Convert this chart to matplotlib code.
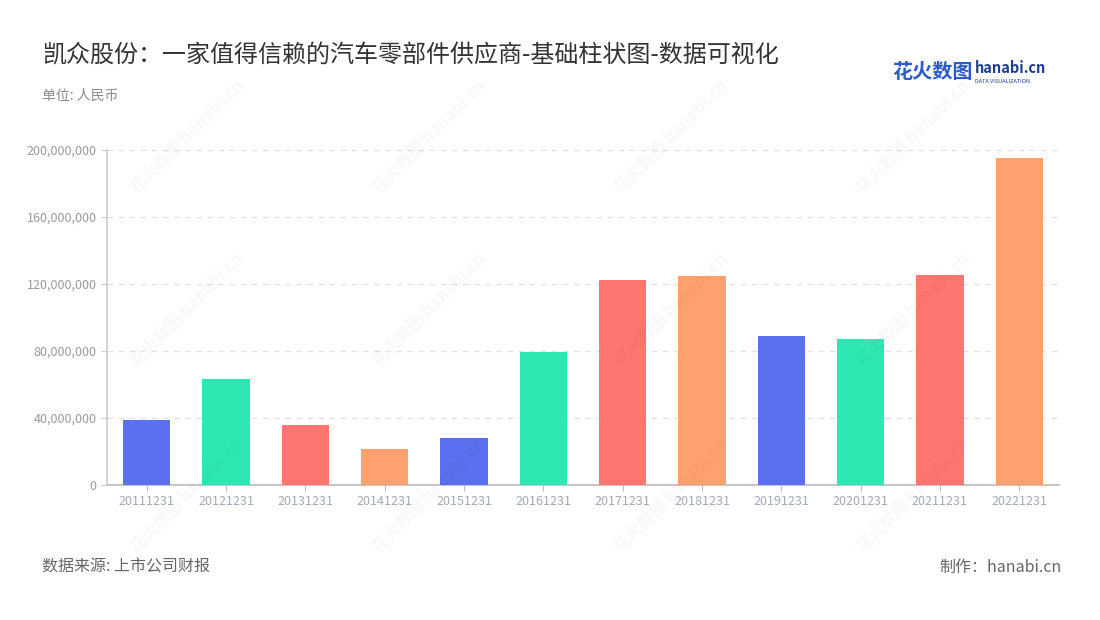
import numpy as np
import matplotlib.pyplot as plt
from matplotlib.ticker import FuncFormatter

plt.rcParams['font.family'] = ['Noto Sans CJK SC', 'DejaVu Sans']

# data
years = ["20111231", "20121231", "20131231", "20141231", "20151231", "20161231",
         "20171231", "20181231", "20191231", "20201231", "20211231", "20221231"]
values = [38.8e6, 63.1e6, 36.0e6, 21.6e6, 28.0e6, 79.4e6,
          122.4e6, 124.8e6, 88.8e6, 87.0e6, 125.6e6, 195.4e6]
palette = ["#5b70ef", "#2ee8b3", "#ff7670", "#ffa16e"]
yticks = [0, 40e6, 80e6, 120e6, 160e6, 200e6]

fig = plt.figure(figsize=(11, 6.2), dpi=100)
ax = fig.add_axes([0.0973, 0.2177, 0.8654, 0.5403])

x = np.arange(len(years))
colors = [palette[i % 4] for i in range(len(years))]
ax.bar(x, values, width=0.6, color=colors, zorder=3)

ax.set_xlim(-0.5, len(years) - 0.5)
ax.set_ylim(0, 200e6)
ax.set_yticks(yticks)
ax.yaxis.set_major_formatter(FuncFormatter(lambda v, p: f"{int(v):,}"))
ax.set_xticks(x)
ax.set_xticklabels(years)
ax.grid(axis='y', color='#e3e3e3', linestyle=(0, (4, 4)), linewidth=1, zorder=0)

for s in ['top', 'right']:
    ax.spines[s].set_visible(False)
ax.spines['left'].set_color('#cccccc')
ax.spines['bottom'].set_color('#bbbbbb')
ax.spines['left'].set_linewidth(1.2)
ax.spines['bottom'].set_linewidth(1.2)
ax.tick_params(axis='y', colors='#cccccc', labelcolor='#9a9a9a', labelsize=9, length=4)
ax.tick_params(axis='x', colors='#bbbbbb', labelcolor='#a3a9b8', labelsize=9, length=4)

# faint watermarks
for wx in [0.17, 0.39, 0.61, 0.83]:
    for wy in [0.78, 0.50, 0.20]:
        fig.text(wx, wy, "花火数图 hanabi.cn", rotation=45, fontsize=12,
                 color='#000000', alpha=0.03, ha='center', va='center',
                 fontweight='bold')

fig.text(0.038, 0.911, "凯众股份：一家值得信赖的汽车零部件供应商-基础柱状图-数据可视化",
         fontsize=17.3, color='#333333', va='center')
fig.text(0.038, 0.845, "单位: 人民币", fontsize=10, color='#8a8a8a', va='center')

# logo
fig.text(0.811, 0.884, "花火数图", fontsize=14.5, color='#2d5cc8', fontweight='bold', va='center')
fig.text(0.886, 0.890, "hanabi.cn", fontsize=10.5, color='#1e3f8f', fontweight='bold', va='center')
fig.text(0.886, 0.868, "DATA VISUALIZATION", fontsize=4, color='#1e3f8f', va='center')

fig.text(0.038, 0.085, "数据来源: 上市公司财报", fontsize=11.5, color='#666666', va='center')
fig.text(0.965, 0.085, "制作：hanabi.cn", fontsize=11.5, color='#666666', va='center', ha='right')

fig.savefig("out.png", dpi=100)
